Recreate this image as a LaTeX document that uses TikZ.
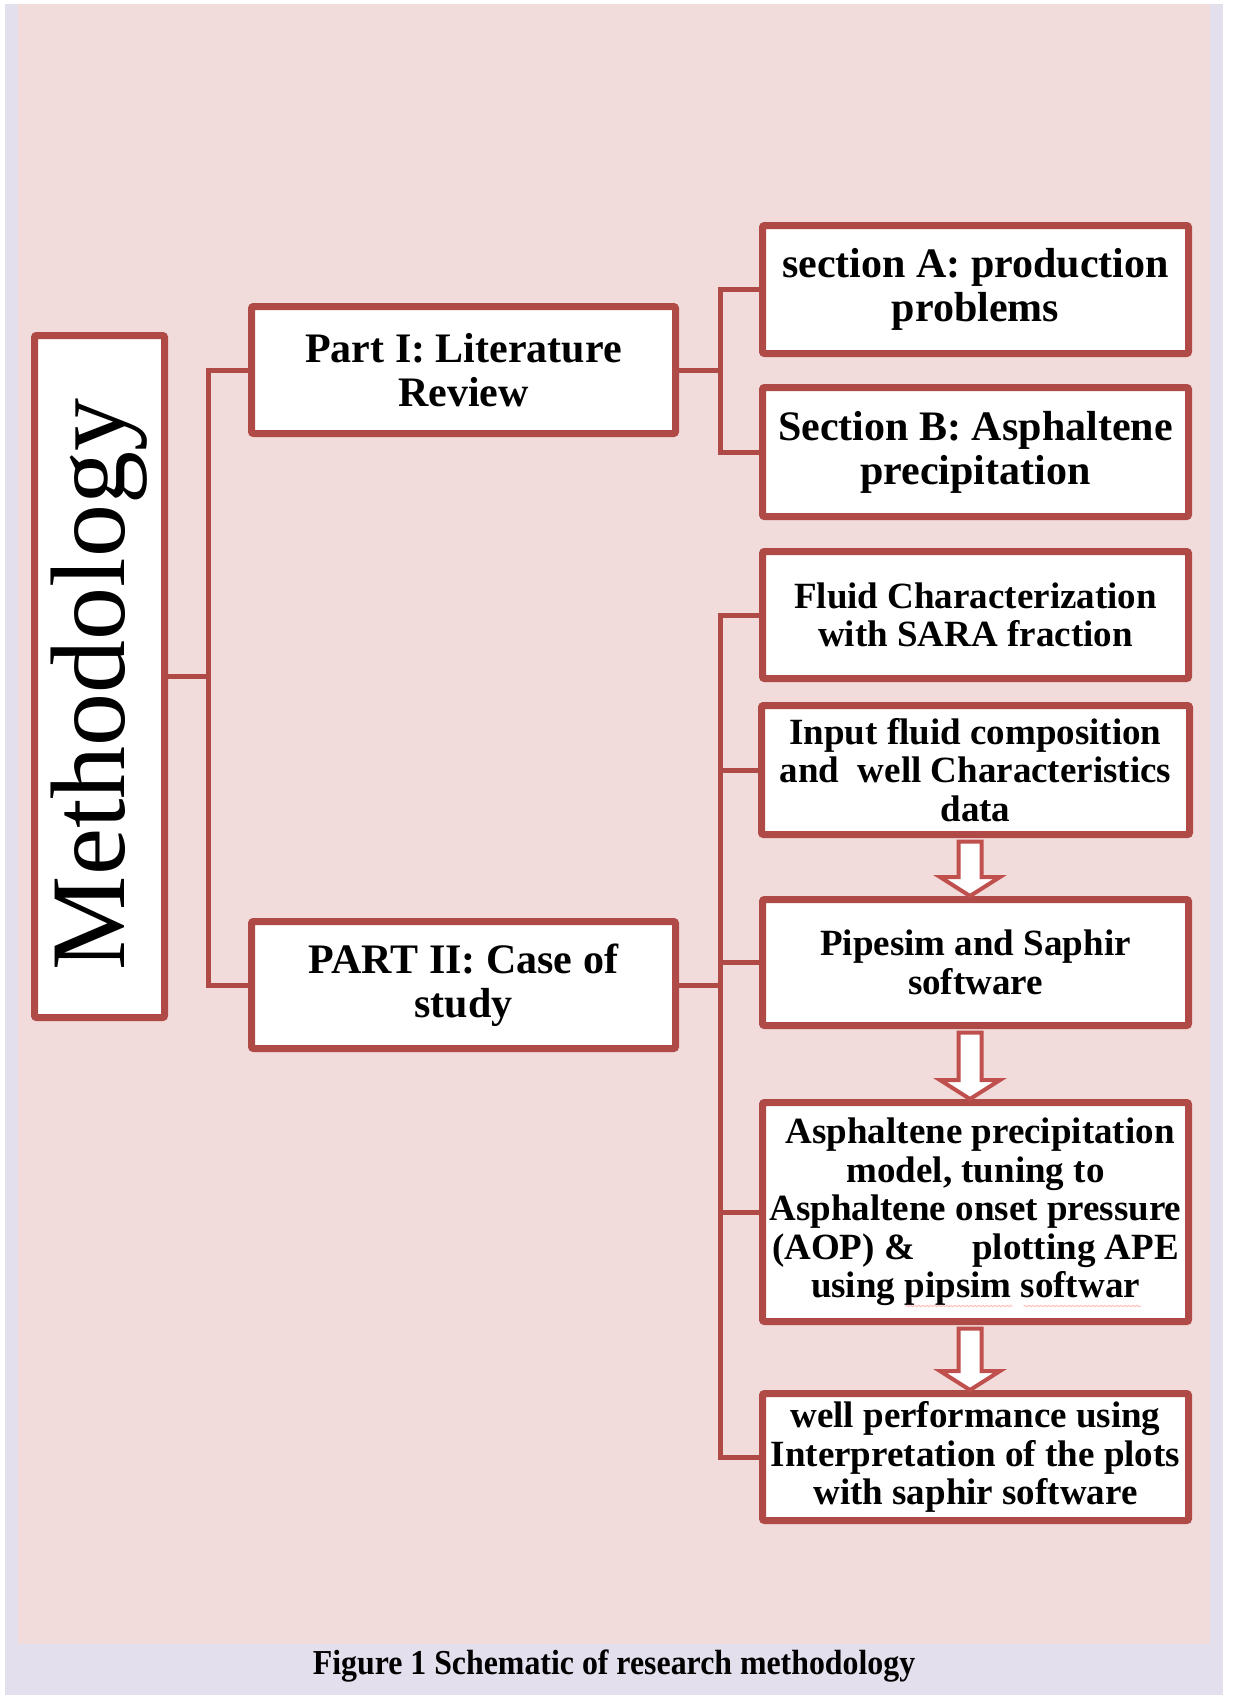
\documentclass[tikz,border=0pt]{standalone}
\usepackage{fontspec}
\setmainfont{Liberation Serif}
\newfontfamily\capfont[FakeStretch=0.91]{Liberation Serif}
\usetikzlibrary{calc,shadows,decorations.pathmorphing}

\definecolor{boxred}{RGB}{176,74,71}
\definecolor{arrowred}{RGB}{192,80,77}
\definecolor{pinkbg}{RGB}{241,220,219}
\definecolor{lavbg}{RGB}{228,223,236}

\tikzset{
  box/.style={draw=boxred, line width=7pt, fill=white, rounded corners=2pt,
    inner sep=0pt, align=center,
    drop shadow={opacity=0.22, shadow xshift=2pt, shadow yshift=-3pt}},
  bigtxt/.style={font=\bfseries\fontsize{42}{44}\selectfont},
  smalltxt/.style={font=\bfseries\fontsize{37}{38.5}\selectfont},
  conn/.style={draw=boxred, line width=5pt},
  barrow/.style={draw=arrowred, line width=4pt, fill=white, line join=miter},
  spellmark/.style={draw=red!70, opacity=0.35, line width=1pt,
    decorate, decoration={snake, amplitude=0.7pt, segment length=4pt}},
}

% hollow block arrow from the bottom of one box to the top of the next
\newcommand\flowarrow[2]{%
  \draw[barrow]
    ($(#1.south)+(-17,3.5)$) -- ($(#2.north)+(-17,-19)$)
    -- ($(#2.north)+(-35.5,-19)$) -- ($(#2.north)+(-5.5,0)$)
    -- ($(#2.north)+(24.5,-19)$) -- ($(#2.north)+(6,-19)$)
    -- ($(#1.south)+(6,3.5)$) -- cycle;}

\begin{document}
\begin{tikzpicture}[x=1pt, y=-1pt]
  \useasboundingbox (0,0) rectangle (1232,1695);
  \fill[white] (0,0) rectangle (1232,1695);
  \fill[lavbg] (5,4) rectangle (1223,1695);
  \fill[pinkbg] (18,4) rectangle (1210,1644);

  % boxes
  \node[box, minimum width=130pt, minimum height=682pt] (meth) at (99.5,676.5) {};
  \node[rotate=90, inner sep=0pt, font=\fontsize{106}{110}\selectfont] (methtxt) at ($(meth.center)+(0,8)$) {Methodology};

  \node[box, bigtxt, minimum width=424pt, minimum height=127pt] (p1) at (463.5,370) {Part I: Literature\\Review};
  \node[box, bigtxt, minimum width=424pt, minimum height=127pt] (p2) at (463.5,985) {PART II: Case of\\study};

  \node[box, bigtxt, minimum width=426pt, minimum height=128pt] (sA) at (975.5,289.5) {section A: production\\problems};
  \node[box, bigtxt, minimum width=426pt, minimum height=129pt] (sB) at (975.5,452) {Section B: Asphaltene\\precipitation};

  \node[box, smalltxt, minimum width=426pt, minimum height=127pt] (fluid) at (975.5,615) {Fluid Characterization\\with SARA fraction};
  \node[box, smalltxt, minimum width=428pt, minimum height=129pt] (input) at (975.5,770) {Input fluid composition\\and\ \ well Characteristics\\data};
  \node[box, smalltxt, minimum width=426pt, minimum height=126pt] (pipe) at (975.5,962.5) {Pipesim and Saphir\\software};
  \node[box, smalltxt, minimum width=426pt, minimum height=219pt] (asp) at (975.5,1212) {\ Asphaltene precipitation\\model, tuning to\\Asphaltene onset pressure\\(AOP) \&\hspace*{1.3em} plotting APE\\using pipsim softwar};
  \node[box, smalltxt, minimum width=426pt, minimum height=127pt] (well) at (975.5,1457) {well performance using\\Interpretation of the plots\\with saphir software};

  % faint proofing squiggles under the last line of the model box
  \draw[spellmark] ($(asp.south)+(-70,-19)$) -- ($(asp.south)+(37,-19)$);
  \draw[spellmark] ($(asp.south)+(48,-19)$) -- ($(asp.south)+(166,-19)$);

  % connector buses
  \coordinate (b1) at (208,0);
  \coordinate (b2) at (720,0);

  \draw[conn] (meth.east) -- (meth.east -| b1);
  \draw[conn] (p1.west) -| (meth.east -| b1) |- (p2.west);

  \draw[conn] (p1.east) -- (p1.east -| b2);
  \draw[conn] (sA.west) -| (p1.east -| b2) |- (sB.west);

  \draw[conn] (p2.east) -- (p2.east -| b2);
  \draw[conn] (fluid.west) -| (p2.east -| b2) |- (well.west);
  \draw[conn] (input.west) -- (input.west -| b2);
  \draw[conn] (pipe.west) -- (pipe.west -| b2);
  \draw[conn] (asp.west) -- (asp.west -| b2);

  % flow arrows
  \flowarrow{input}{pipe}
  \flowarrow{pipe}{asp}
  \flowarrow{asp}{well}

  % caption
  \node[anchor=base, inner sep=0pt, font=\capfont\bfseries\fontsize{35}{40}\selectfont] (cap) at (614,1674) {Figure 1 Schematic of research methodology};
\end{tikzpicture}
\end{document}
